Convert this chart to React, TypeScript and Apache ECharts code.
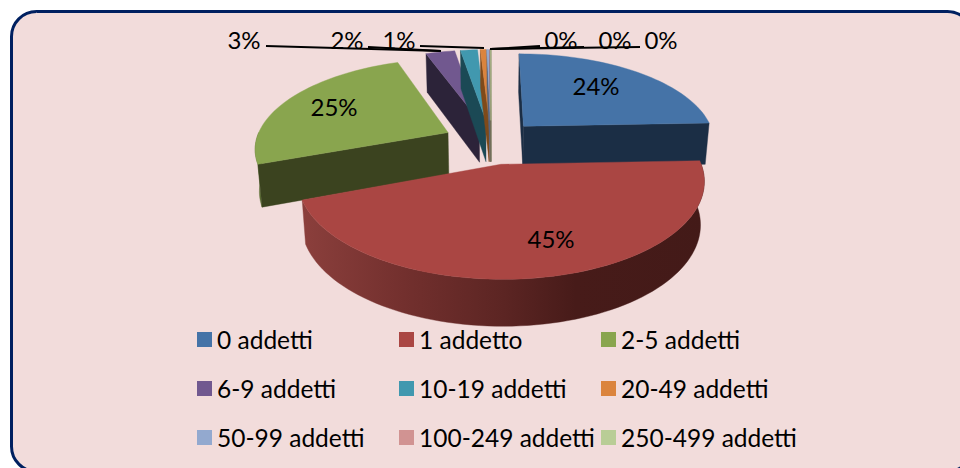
import React, { useEffect, useRef } from "react";
import * as echarts from "echarts";

const categories = ["0 addetti", "1 addetto", "2-5 addetti", "6-9 addetti", "10-19 addetti", "20-49 addetti", "50-99 addetti", "100-249 addetti", "250-499 addetti"];
const shares = [24.4, 44.9, 25.2, 2.9, 1.7, 0.55, 0.25, 0.07, 0.03];
const topColors = ["#4573A7", "#AA4643", "#89A54E", "#71588F", "#4198AF", "#DB843D", "#93A9CF", "#D19392", "#B9CD96"];
const wallColors = ["#1B2E45", "#431A18", "#3B431F", "#2C2339", "#1B4955", "#7F4A1A", "#56657F", "#7D5857", "#6F7B5A"];
const legendColumns = [[0, 3, 6], [1, 4, 7], [2, 5, 8]];

const PROJ = { cx: 491, cy: 141.7, a: 192.5, b: 88.5, k: 0.16, h: 42, taper: 0.018, explode: 0.25 };
const INNER_LABELS: Record<number, [number, number]> = { 0: [596, 85], 1: [551, 238], 2: [334, 106] };
const LEADERS: Record<number, { text: [number, number]; knee: [number, number]; end: [number, number] }> = {
  3: { text: [244, 39], knee: [266, 46], end: [441, 51] },
  4: { text: [347, 39], knee: [368, 47], end: [441, 51] },
  5: { text: [399, 39], knee: [420, 46], end: [484, 48] },
  6: { text: [561, 39], knee: [540, 46], end: [490, 49] },
  7: { text: [615, 39], knee: [584, 47], end: [490, 49] },
  8: { text: [661, 39], knee: [640, 47], end: [490, 49] },
};

const total = shares.reduce((s, v) => s + v, 0);
const starts: number[] = [];
shares.reduce((acc, v, i) => { starts[i] = acc; return acc + v; }, 0);
const rad = (share: number) => (share / total) * Math.PI * 2;

function project(X: number, Y: number, z: number): number[] {
  const w = 1 + PROJ.k * Y;
  const px = PROJ.cx + (PROJ.a * X * (1 - PROJ.taper * z)) / w;
  const py = PROJ.cy + (-PROJ.b * Y) / w + (PROJ.h * z) / Math.sqrt(w);
  return [px, py];
}

function sliceShapes(i: number) {
  const t0 = rad(starts[i]);
  const t1 = rad(starts[i] + shares[i]);
  const mid = (t0 + t1) / 2;
  const ox = PROJ.explode * Math.sin(mid);
  const oy = PROJ.explode * Math.cos(mid);
  const at = (t: number, r: number, z: number) => project(ox + r * Math.sin(t), oy + r * Math.cos(t), z);
  const arc = (a: number, b: number, z: number) => {
    const pts: number[][] = [];
    const n = Math.max(2, Math.ceil(((b - a) / Math.PI) * 90));
    for (let j = 0; j <= n; j++) pts.push(at(a + ((b - a) * j) / n, 1, z));
    return pts;
  };
  const children: any[] = [];
  const poly = (points: number[][], fill: any) => children.push({
    type: "polygon", shape: { points }, style: { fill, stroke: fill, lineWidth: 0.4 }, silent: true,
  });
  // outer wall: only the part facing the viewer
  const a0 = Math.max(t0, Math.PI / 2);
  const a1 = Math.min(t1, Math.PI * 1.5);
  if (a1 > a0) {
    const fill = i === 1
      ? new echarts.graphic.LinearGradient(0, 0, 1, 0, [
          { offset: 0, color: "#8B3F3C" },
          { offset: 0.25, color: "#73302E" },
          { offset: 0.5, color: "#5C2523" },
          { offset: 0.68, color: "#471B19" },
          { offset: 1, color: "#431A18" },
        ])
      : i === 2 ? "#5D7035" : wallColors[i];
    poly([...arc(a0, a1, 0), ...arc(a0, a1, 1).reverse()], fill);
  }
  // radial walls: only those facing the viewer
  if (Math.cos(t1 + Math.PI / 2) < 0.05) {
    poly([at(t1, 0, 0), at(t1, 1, 0), at(t1, 1, 1), at(t1, 0, 1)], wallColors[i]);
  }
  if (Math.cos(t0 - Math.PI / 2) < 0.05) {
    poly([at(t0, 0, 0), at(t0, 1, 0), at(t0, 1, 1), at(t0, 0, 1)], wallColors[i]);
  }
  poly([at(t0, 0, 0), ...arc(t0, t1, 0)], topColors[i]);
  return children;
}

const pct = (v: number) => `${Math.round((v / total) * 100)}%`;
const FONT = "Lato, Carlito, sans-serif";

function renderSlice(i: number) {
  const children = sliceShapes(i);
  const leader = LEADERS[i];
  const place = INNER_LABELS[i];
  if (leader) {
    children.push({
      type: "polyline", silent: true, z2: 20,
      shape: { points: [[leader.knee[0], leader.knee[1]], leader.end] },
      style: { fill: "none", stroke: "#000", lineWidth: 1.8 },
    });
  }
  const pos = place || (leader && leader.text);
  if (pos) {
    children.push({
      type: "text", silent: true, z2: 30, x: pos[0], y: pos[1],
      style: { text: pct(shares[i]), fill: "#000", font: `24px ${FONT}`, align: "center", verticalAlign: "middle" },
    });
  }
  return { type: "group", children };
}

export default function App() {
  const ref = useRef<HTMLDivElement>(null);
  useEffect(() => {
    const chart = echarts.init(ref.current!, undefined, { renderer: "svg" });
    const order = [3, 4, 5, 6, 7, 8, 2, 0, 1];
    chart.setOption({
      animation: false,
      backgroundColor: "#FFFFFF",
      graphic: [{
        type: "rect", z: -10, silent: true,
        shape: { x: 11.5, y: 11.5, width: 961, height: 460, r: 25 },
        style: { fill: "#F2DCDB", stroke: "#002060", lineWidth: 3 },
      }],
      legend: legendColumns.map((col, c) => ({
        orient: "vertical",
        left: [197, 399, 601][c],
        top: 327,
        itemGap: 24,
        itemWidth: 15,
        itemHeight: 15,
        padding: 0,
        icon: "rect",
        selectedMode: false,
        data: col.map((idx) => categories[idx]),
        textStyle: { color: "#000", fontFamily: FONT, fontSize: 24.5, padding: [0, 0, 0, 0] },
      })),
      series: order.map((idx) => ({
        type: "custom",
        name: categories[idx],
        coordinateSystem: "none",
        itemStyle: { color: topColors[idx] },
        data: [[shares[idx]]],
        renderItem: () => renderSlice(idx),
      })),
    });
    return () => chart.dispose();
  }, []);
  return <div ref={ref} style={{ position: "fixed", left: 0, top: 0, width: 960, height: 468 }} />;
}
